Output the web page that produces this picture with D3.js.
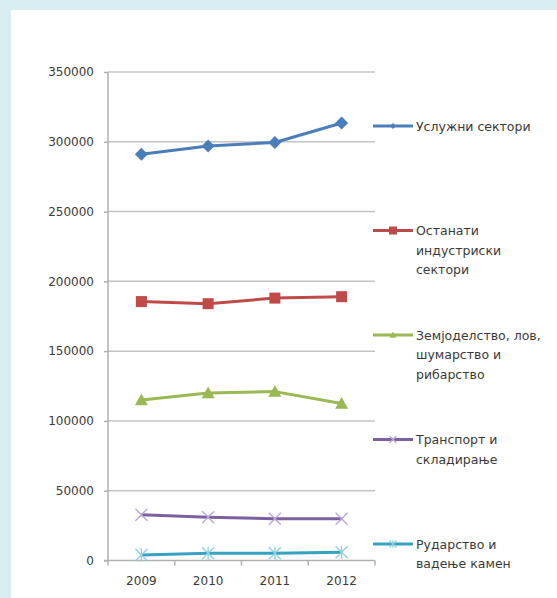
<!DOCTYPE html>
<html>
<head>
<meta charset="utf-8">
<script src="https://cdn.jsdelivr.net/npm/d3@7"></script>
<style>
  html, body { margin: 0; padding: 0; background: #d8eef0; }
  svg { display: block; }
</style>
</head>
<body>
<svg id="chart" width="557" height="598"></svg>
<script>
const years = ["2009", "2010", "2011", "2012"];
const seriesNames = [
  "Услужни сектори",
  "Останати\nиндустриски\nсектори",
  "Земјоделство, лов,\nшумарство и\nрибарство",
  "Транспорт и\nскладирање",
  "Рударство и\nвадење  камен"
];
const uslugi = [291000, 297000, 299500, 313500];
const industrija = [185500, 184000, 188000, 189000];
const zemjodelstvo = [115000, 120000, 121000, 112500];
const transport = [32800, 31000, 29900, 29900];
const rudarstvo = [4000, 5200, 5200, 5900];
const yTicks = [0, 50000, 100000, 150000, 200000, 250000, 300000, 350000];

const seriesValues = [uslugi, industrija, zemjodelstvo, transport, rudarstvo];
const colors = ["#4a7ebb", "#be4b48", "#98b954", "#7d60a0", "#35a2c0"];
const markerTypes = ["diamond", "square", "triangle", "x", "star"];

const svg = d3.select("#chart");
svg.append("rect").attr("x", 11).attr("y", 10).attr("width", 546).attr("height", 588).attr("fill", "#ffffff");

const x = d3.scaleBand().domain(years).range([108, 375]);
const y = d3.scaleLinear().domain([0, 350000]).range([560.5, 72]);
const cx = d => x(d) + x.bandwidth() / 2;

const font = "DejaVu Sans, sans-serif";

// gridlines
svg.append("g").selectAll("line").data(yTicks.filter(t => t > 0)).join("line")
  .attr("x1", 108).attr("x2", 375)
  .attr("y1", d => y(d)).attr("y2", d => y(d))
  .attr("stroke", "#c4c4c4").attr("stroke-width", 1.5);

// y axis
const yAxis = d3.axisLeft(y).tickValues(yTicks).tickSize(4).tickPadding(10).tickFormat(d3.format("d"));
const gy = svg.append("g").attr("transform", "translate(108,0)").call(yAxis);
gy.select(".domain").attr("stroke", "#b0b0b0").attr("stroke-width", 1.5).attr("d", `M0,${y(350000)}V${y(0)}`);
gy.selectAll(".tick line").attr("stroke", "#b0b0b0").attr("stroke-width", 1.5);
gy.selectAll(".tick text").attr("font-family", font).attr("font-size", 12).attr("fill", "#3a3a3a");

// x axis
const xAxis = d3.axisBottom(x).tickSize(0).tickPadding(16);
const gx = svg.append("g").attr("transform", `translate(0,${y(0)})`).call(xAxis);
gx.select(".domain").attr("stroke", "#b0b0b0").attr("stroke-width", 1.5).attr("d", "M104,0H375");
gx.selectAll(".tick text").attr("font-family", font).attr("font-size", 12).attr("fill", "#3a3a3a");
// category boundary ticks
const bounds = years.map(d => x(d)).concat([x(years[years.length - 1]) + x.bandwidth()]);
svg.append("g").selectAll("line").data(bounds).join("line")
  .attr("x1", d => d).attr("x2", d => d)
  .attr("y1", y(0)).attr("y2", y(0) + 5)
  .attr("stroke", "#b0b0b0").attr("stroke-width", 1.5);

function drawMarker(g, type, color, s) {
  if (type === "diamond") {
    g.append("path").attr("d", `M0,${-s}L${s},0L0,${s}L${-s},0Z`).attr("fill", color);
  } else if (type === "square") {
    g.append("rect").attr("x", -s).attr("y", -s).attr("width", 2 * s).attr("height", 2 * s).attr("fill", color);
  } else if (type === "triangle") {
    g.append("path").attr("d", `M0,${-s}L${s},${s * 0.8}L${-s},${s * 0.8}Z`).attr("fill", color);
  } else if (type === "x") {
    g.append("path").attr("d", `M${-s},${-s}L${s},${s}M${-s},${s}L${s},${-s}`).attr("stroke", color).attr("stroke-width", 1.3).attr("fill", "none");
  } else if (type === "star") {
    g.append("path").attr("d", `M${-s},${-s}L${s},${s}M${-s},${s}L${s},${-s}M0,${-s * 1.1}V${s * 1.1}`).attr("stroke", color).attr("stroke-width", 1.3).attr("fill", "none");
  }
}

const line = d3.line().x(d => cx(d.year)).y(d => y(d.value));
const markerSizes = [6.5, 5.5, 6.5, 6, 6];
const markerColors = ["#4a7ebb", "#be4b48", "#98b954", "#b9a6d4", "#8fd0e0"];

seriesValues.forEach((vals, i) => {
  const data = years.map((yr, j) => ({ year: yr, value: vals[j] }));
  svg.append("path").datum(data).attr("d", line)
    .attr("fill", "none").attr("stroke", colors[i]).attr("stroke-width", 3).attr("stroke-linejoin", "round");
  data.forEach(d => {
    const g = svg.append("g").attr("transform", `translate(${cx(d.year)},${y(d.value)})`);
    drawMarker(g, markerTypes[i], markerColors[i], markerSizes[i]);
  });
});

// legend
const legendSmall = [3, 4, 3.5, 3.5, 3.5];
seriesNames.forEach((name, i) => {
  const ly = 126 + i * 104.5;
  svg.append("line").attr("x1", 373).attr("x2", 413).attr("y1", ly).attr("y2", ly)
    .attr("stroke", colors[i]).attr("stroke-width", 3);
  const g = svg.append("g").attr("transform", `translate(393,${ly})`);
  drawMarker(g, markerTypes[i], markerColors[i], legendSmall[i]);
  const lines = name.split("\n");
  const t = svg.append("text").attr("font-family", font).attr("font-size", 12.5).attr("fill", "#3a3a3a");
  lines.forEach((ln, k) => {
    t.append("tspan").attr("x", 416).attr("y", ly + k * 19.5 + 4.5).text(ln);
  });
});
</script>
</body>
</html>
